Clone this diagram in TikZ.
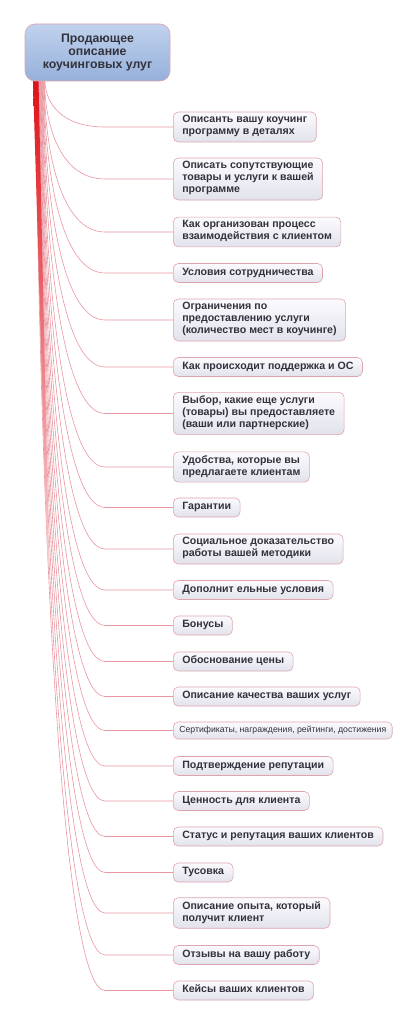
\documentclass[tikz,border=0pt]{standalone}
\usepackage{fontspec}
\setmainfont{Liberation Sans}
\usetikzlibrary{backgrounds,calc}
\definecolor{linec}{RGB}{232,150,160}
\definecolor{boxborder}{RGB}{222,165,175}
\definecolor{txt}{RGB}{50,50,60}
\definecolor{roottop}{RGB}{192,210,238}
\definecolor{rootbot}{RGB}{150,176,218}
\definecolor{boxtop}{RGB}{251,251,254}
\definecolor{boxbot}{RGB}{226,226,236}
\definecolor{wedgetop}{RGB}{222,18,24}
\definecolor{wedgebot}{RGB}{248,205,208}
\begin{document}
\begin{tikzpicture}[x=1pt,y=-1pt,
  rootbox/.style={draw=boxborder, line width=0.6pt, rounded corners=10pt,
    top color=roottop, bottom color=rootbot, minimum width=145pt,
    minimum height=57pt, align=center, text=txt,
    font=\fontsize{12.3}{13.4}\selectfont\bfseries, inner sep=0pt},
  topic/.style={draw=boxborder, line width=0.6pt, rounded corners=5pt,
    top color=boxtop, bottom color=boxbot, anchor=west, align=left,
    text=txt, font=\fontsize{10.6}{12}\selectfont\bfseries,
    inner xsep=9pt, inner ysep=3.5pt,
    execute at begin node={\strut}, execute at end node={\strut}},
  smalltopic/.style={topic, font=\fontsize{8.7}{10}\selectfont, inner xsep=6pt},
  conn/.style={draw=linec, line width=0.6pt}]
\useasboundingbox (0,0) rectangle (419,1024);

\node[rootbox] (root) at (97.5,52.5) {Продающее\\описание\\коучинговых улуг};

\node[topic] (c1) at (173,127) {Описанть вашу коучинг\\программу в деталях};
\node[topic] (c2) at (173,179) {Описать сопутствующие\\товары и услуги к вашей\\программе};
\node[topic] (c3) at (173,232) {Как организован процесс\\взаимодействия с клиентом};
\node[topic] (c4) at (173,273) {Условия сотрудничества};
\node[topic] (c5) at (173,320) {Ограничения по\\предоставлению услуги\\(количество мест в коучинге)};
\node[topic] (c6) at (173,367) {Как происходит поддержка и ОС};
\node[topic] (c7) at (173,413.5) {Выбор, какие еще услуги\\(товары) вы предоставляете\\(ваши или партнерские)};
\node[topic] (c8) at (173,467) {Удобства, которые вы\\предлагаете клиентам};
\node[topic] (c9) at (173,507.5) {Гарантии};
\node[topic] (c10) at (173,549) {Социальное доказательство\\работы вашей методики};
\node[topic] (c11) at (173,590) {Дополнит ельные условия};
\node[topic] (c12) at (173,625.5) {Бонусы};
\node[topic] (c13) at (173,661.5) {Обоснование цены};
\node[topic] (c14) at (173,696.5) {Описание качества ваших услуг};
\node[smalltopic] (c15) at (173,730.5) {Сертификаты, награждения, рейтинги, достижения};
\node[topic] (c16) at (173,766) {Подтверждение репутации};
\node[topic] (c17) at (173,801) {Ценность для клиента};
\node[topic] (c18) at (173,836.5) {Статус и репутация ваших клиентов};
\node[topic] (c19) at (173,872.5) {Тусовка};
\node[topic] (c20) at (173,913) {Описание опыта, который\\получит клиент};
\node[topic] (c21) at (173,955) {Отзывы на вашу работу};
\node[topic] (c22) at (173,990.5) {Кейсы ваших клиентов};

\begin{scope}[on background layer]
\foreach \i/\yc in {1/127,2/179,3/232,4/273,5/320,6/367,7/413.5,8/467,9/507.5,
    10/549,11/590,12/625.5,13/661.5,14/696.5,15/730.5,16/766,17/801,18/836.5,
    19/872.5,20/913,21/955,22/990.5}{
  \pgfmathsetmacro\xo{45-(\i-1)*0.45}
  \pgfmathsetmacro\dy{\yc-81}
  \pgfmathsetmacro\px{\xo+4*\dy/909}
  \pgfmathsetmacro\py{81+0.45*\dy}
  \coordinate (s\i) at (\xo,81);
  \draw[conn] (s\i) .. controls (\px,\py) and ([xshift=-113pt]c\i.west)
    .. ([xshift=-68pt]c\i.west) -- (c\i.west);
}
\shade[top color=wedgetop, bottom color=wedgebot]
  (33,81) -- (38.5,81) -- (49,560) -- (47.5,560) -- cycle;
\end{scope}
\end{tikzpicture}
\end{document}
